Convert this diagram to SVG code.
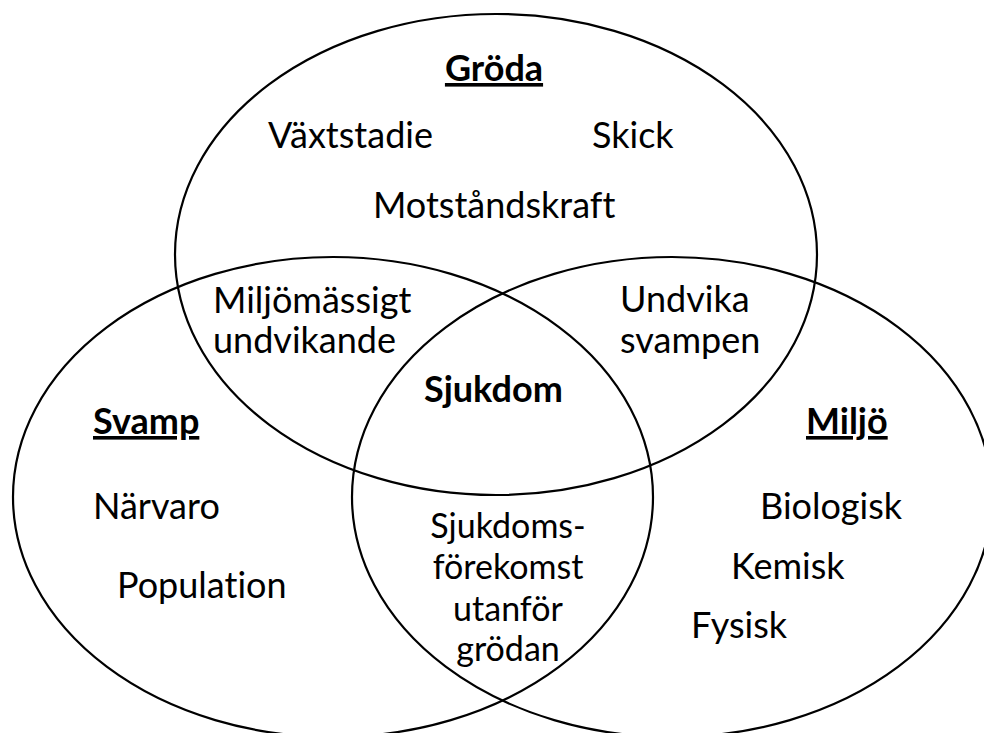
<svg xmlns="http://www.w3.org/2000/svg" width="984" height="733" viewBox="0 0 984 733">
<style>
.set{fill:none;stroke:#000;stroke-width:2.2}
text{font-family:Lato,"Open Sans","Liberation Sans",sans-serif;font-size:36px;fill:#000;font-variant-ligatures:none;font-feature-settings:"liga" 0,"clig" 0}
.b{font-weight:bold}
.u{text-decoration:underline}
.m{text-anchor:middle}
.s{font-size:34px}
</style>
<rect width="984" height="733" fill="#fff"/>
<g id="set-groda"><ellipse class="set" cx="496" cy="254.5" rx="321" ry="240.5"/></g>
<g id="set-svamp"><ellipse class="set" cx="333" cy="497" rx="320" ry="240"/></g>
<g id="set-miljo"><ellipse class="set" cx="672" cy="497" rx="320" ry="240"/></g>
<g id="groda">
<text class="b u m" x="494" y="81">Gröda</text>
<text x="268" y="148">Växtstadie</text>
<text x="592" y="148">Skick</text>
<text x="373" y="218">Motståndskraft</text>
</g>
<g id="groda-svamp">
<text x="213" y="313">Miljömässigt</text>
<text x="213" y="353">undvikande</text>
</g>
<g id="groda-miljo">
<text x="620" y="312">Undvika</text>
<text x="620" y="353">svampen</text>
</g>
<g id="sjukdom"><text class="b" x="424" y="402">Sjukdom</text></g>
<g id="svamp">
<text class="b u" x="93" y="434">Svamp</text>
<text x="93" y="519">Närvaro</text>
<text x="117" y="598">Population</text>
</g>
<g id="miljo">
<text class="b u" x="806" y="434">Miljö</text>
<text x="760" y="519">Biologisk</text>
<text x="731" y="579">Kemisk</text>
<text x="691" y="638">Fysisk</text>
</g>
<g id="svamp-miljo">
<text class="m s" x="508" y="538">Sjukdoms-</text>
<text class="m s" x="508" y="579">förekomst</text>
<text class="m s" x="508" y="621">utanför</text>
<text class="m s" x="508" y="661">grödan</text>
</g>
</svg>
